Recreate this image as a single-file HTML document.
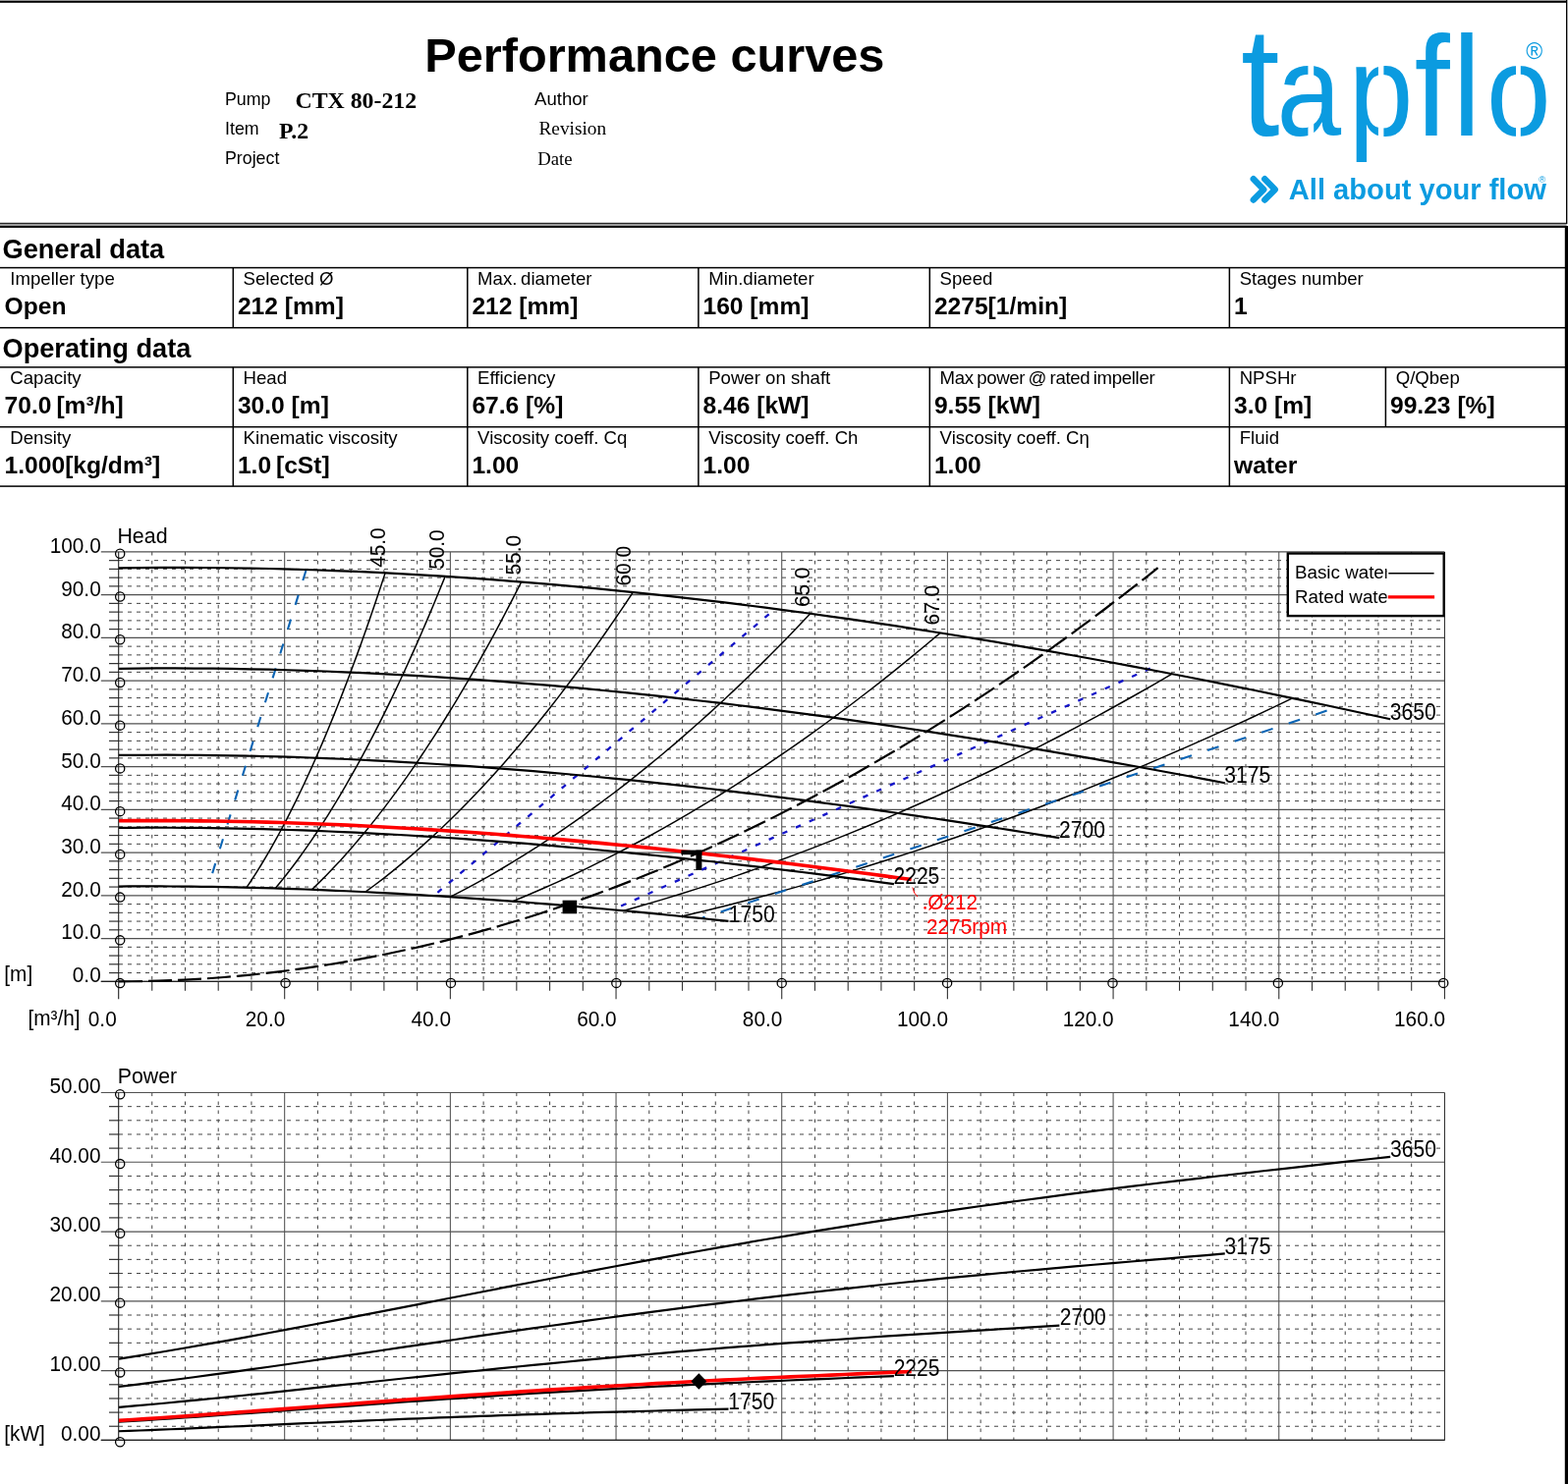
<!DOCTYPE html>
<html><head><meta charset="utf-8"><title>Performance curves</title>
<style>
html,body{margin:0;padding:0;background:#fff}
body{width:1596px;height:1511px;overflow:hidden;position:relative}
svg{position:absolute;left:0;top:0;display:block}
</style></head><body>
<svg width="1596" height="1511" viewBox="0 0 1596 1511" font-family='"Liberation Sans", Arial, Helvetica, sans-serif'>
<rect x="0" y="0" width="1596" height="0.8" fill="#aaa"/>
<rect x="0" y="0.8" width="1596" height="2" fill="#000"/>
<rect x="1595" y="0" width="1" height="228" fill="#bbb"/>
<rect x="1594" y="0" width="1.1" height="228" fill="#000"/>
<rect x="1592.8" y="230" width="3.2" height="1281" fill="#000"/>
<text x="432.2" y="72.6" font-size="48.7" font-weight="bold">Performance curves</text>
<text x="229" y="107" font-size="17.8">Pump</text>
<text x="300.5" y="109.8" font-size="23.8" font-weight="bold" font-family='"Liberation Serif", "Times New Roman", serif'>CTX 80-212</text>
<text x="229" y="136.7" font-size="17.8">Item</text>
<text x="284" y="140.8" font-size="23.8" font-weight="bold" font-family='"Liberation Serif", "Times New Roman", serif'>P.2</text>
<text x="229" y="167.4" font-size="17.8">Project</text>
<text x="544" y="106.9" font-size="18.6">Author</text>
<text x="548.5" y="136.7" font-size="19.3" font-family='"Liberation Serif", "Times New Roman", serif'>Revision</text>
<text x="547.3" y="167.7" font-size="18.7" font-family='"Liberation Serif", "Times New Roman", serif'>Date</text>
<text fill="#0b9be0" transform="scale(0.9 1)"><tspan x="1403.33" y="138.3" font-size="158">t</tspan><tspan x="1443.78" y="138.3" font-size="131">a</tspan><tspan x="1525.33" y="138.3" font-size="131">p</tspan><tspan x="1599.67" y="138.3" font-size="144">f</tspan><tspan x="1642.67" y="138.3" font-size="144">l</tspan><tspan x="1681.11" y="138.3" font-size="131">o</tspan></text>
<rect x="1331.4" y="60" width="5.8" height="22" fill="#fff"/>
<rect x="1331.4" y="124" width="5.8" height="18" fill="#fff"/>
<rect x="1402.9" y="60" width="5.5" height="22" fill="#fff"/>
<rect x="1402.9" y="124" width="5.5" height="18" fill="#fff"/>
<rect x="1543" y="60" width="4.8" height="22" fill="#fff"/>
<rect x="1543" y="124" width="4.8" height="18" fill="#fff"/>
<text x="1553.2" y="60" font-size="23" fill="#0b9be0">&#174;</text>
<path d="M1275.8 182.2 L1286.3 192.9 L1275.8 203.5" fill="none" stroke="#0b9be0" stroke-width="6.4" stroke-linecap="round" stroke-linejoin="round"/>
<path d="M1287.3 182.2 L1297.8 192.9 L1287.3 203.5" fill="none" stroke="#0b9be0" stroke-width="6.4" stroke-linecap="round" stroke-linejoin="round"/>
<text x="1311.8" y="203.1" font-size="28.7" font-weight="bold" fill="#0b9be0" textLength="262.1" lengthAdjust="spacingAndGlyphs">All about your flow</text>
<text x="1566.2" y="186.2" font-size="9.5" fill="#0b9be0">&#174;</text>
<rect x="0" y="226.8" width="1595" height="1.1" fill="#000"/>
<rect x="0" y="227.9" width="1594.6" height="2.1" fill="#9a9a9a"/>
<rect x="0" y="230" width="1596" height="1.9" fill="#000"/>
<text x="2.5" y="262.9" font-size="27.2" font-weight="bold">General data</text>
<text x="2.5" y="364" font-size="27.2" font-weight="bold">Operating data</text>
<rect x="0" y="271.85" width="1594" height="1.5" fill="#000"/>
<rect x="0" y="332.95" width="1594" height="1.5" fill="#000"/>
<rect x="0" y="373.15" width="1594" height="1.5" fill="#000"/>
<rect x="0" y="433.95" width="1594" height="1.5" fill="#000"/>
<rect x="0" y="494.35" width="1594" height="1.5" fill="#000"/>
<rect x="236.55" y="272.6" width="1.5" height="61.1" fill="#000"/>
<rect x="236.55" y="373.9" width="1.5" height="121.2" fill="#000"/>
<rect x="475.05" y="272.6" width="1.5" height="61.1" fill="#000"/>
<rect x="475.05" y="373.9" width="1.5" height="121.2" fill="#000"/>
<rect x="710.15" y="272.6" width="1.5" height="61.1" fill="#000"/>
<rect x="710.15" y="373.9" width="1.5" height="121.2" fill="#000"/>
<rect x="945.55" y="272.6" width="1.5" height="61.1" fill="#000"/>
<rect x="945.55" y="373.9" width="1.5" height="121.2" fill="#000"/>
<rect x="1250.65" y="272.6" width="1.5" height="61.1" fill="#000"/>
<rect x="1250.65" y="373.9" width="1.5" height="121.2" fill="#000"/>
<rect x="1409.65" y="373.9" width="1.5" height="60.8" fill="#000"/>
<text x="10.3" y="290.1" font-size="18.6">Impeller type</text>
<text x="4.6" y="320.1" font-size="24.6" font-weight="bold">Open</text>
<text x="247.6" y="290.1" font-size="18.6">Selected &#216;</text>
<text x="241.9" y="320.1" font-size="24.6" font-weight="bold">212 [mm]</text>
<text x="486.1" y="290.1" font-size="18.6">Max.&#8201;diameter</text>
<text x="480.4" y="320.1" font-size="24.6" font-weight="bold">212 [mm]</text>
<text x="721.2" y="290.1" font-size="18.6">Min.diameter</text>
<text x="715.5" y="320.1" font-size="24.6" font-weight="bold">160 [mm]</text>
<text x="956.6" y="290.1" font-size="18.6">Speed</text>
<text x="950.9" y="320.1" font-size="24.6" font-weight="bold">2275[1/min]</text>
<text x="1261.7" y="290.1" font-size="18.6">Stages number</text>
<text x="1256" y="320.1" font-size="24.6" font-weight="bold">1</text>
<text x="10.3" y="391.4" font-size="18.6">Capacity</text>
<text x="4.6" y="421.4" font-size="24.6" font-weight="bold">70.0&#8201;[m&#179;/h]</text>
<text x="247.6" y="391.4" font-size="18.6">Head</text>
<text x="241.9" y="421.4" font-size="24.6" font-weight="bold">30.0 [m]</text>
<text x="486.1" y="391.4" font-size="18.6">Efficiency</text>
<text x="480.4" y="421.4" font-size="24.6" font-weight="bold">67.6 [%]</text>
<text x="721.2" y="391.4" font-size="18.6">Power on shaft</text>
<text x="715.5" y="421.4" font-size="24.6" font-weight="bold">8.46 [kW]</text>
<text x="956.6" y="391.4" font-size="18.6" textLength="219" lengthAdjust="spacing">Max&#8201;power&#8201;@&#8201;rated&#8201;impeller</text>
<text x="950.9" y="421.4" font-size="24.6" font-weight="bold">9.55 [kW]</text>
<text x="1261.7" y="391.4" font-size="18.6">NPSHr</text>
<text x="1256" y="421.4" font-size="24.6" font-weight="bold">3.0 [m]</text>
<text x="1420.7" y="391.4" font-size="18.6">Q/Qbep</text>
<text x="1415" y="421.4" font-size="24.6" font-weight="bold">99.23 [%]</text>
<text x="10.3" y="452.2" font-size="18.6">Density</text>
<text x="4.6" y="482.2" font-size="24.6" font-weight="bold">1.000[kg/dm&#179;]</text>
<text x="247.6" y="452.2" font-size="18.6">Kinematic viscosity</text>
<text x="241.9" y="482.2" font-size="24.6" font-weight="bold">1.0&#8201;[cSt]</text>
<text x="486.1" y="452.2" font-size="18.6">Viscosity coeff. Cq</text>
<text x="480.4" y="482.2" font-size="24.6" font-weight="bold">1.00</text>
<text x="721.2" y="452.2" font-size="18.6">Viscosity coeff. Ch</text>
<text x="715.5" y="482.2" font-size="24.6" font-weight="bold">1.00</text>
<text x="956.6" y="452.2" font-size="18.6">Viscosity coeff. C&#951;</text>
<text x="950.9" y="482.2" font-size="24.6" font-weight="bold">1.00</text>
<text x="1261.7" y="452.2" font-size="18.6">Fluid</text>
<text x="1256" y="482.2" font-size="24.6" font-weight="bold">water</text>
<line x1="121" y1="990.55" x2="1470.44" y2="990.55" stroke="#444" stroke-width="1" stroke-dasharray="4 5"/>
<line x1="111" y1="990.55" x2="121" y2="990.55" stroke="#333" stroke-width="1.2"/>
<line x1="121" y1="981.8" x2="1470.44" y2="981.8" stroke="#444" stroke-width="1" stroke-dasharray="4 5"/>
<line x1="111" y1="981.8" x2="121" y2="981.8" stroke="#333" stroke-width="1.2"/>
<line x1="121" y1="973.06" x2="1470.44" y2="973.06" stroke="#444" stroke-width="1" stroke-dasharray="4 5"/>
<line x1="111" y1="973.06" x2="121" y2="973.06" stroke="#333" stroke-width="1.2"/>
<line x1="121" y1="964.31" x2="1470.44" y2="964.31" stroke="#444" stroke-width="1" stroke-dasharray="4 5"/>
<line x1="111" y1="964.31" x2="121" y2="964.31" stroke="#333" stroke-width="1.2"/>
<line x1="121" y1="946.81" x2="1470.44" y2="946.81" stroke="#444" stroke-width="1" stroke-dasharray="4 5"/>
<line x1="111" y1="946.81" x2="121" y2="946.81" stroke="#333" stroke-width="1.2"/>
<line x1="121" y1="938.06" x2="1470.44" y2="938.06" stroke="#444" stroke-width="1" stroke-dasharray="4 5"/>
<line x1="111" y1="938.06" x2="121" y2="938.06" stroke="#333" stroke-width="1.2"/>
<line x1="121" y1="929.32" x2="1470.44" y2="929.32" stroke="#444" stroke-width="1" stroke-dasharray="4 5"/>
<line x1="111" y1="929.32" x2="121" y2="929.32" stroke="#333" stroke-width="1.2"/>
<line x1="121" y1="920.57" x2="1470.44" y2="920.57" stroke="#444" stroke-width="1" stroke-dasharray="4 5"/>
<line x1="111" y1="920.57" x2="121" y2="920.57" stroke="#333" stroke-width="1.2"/>
<line x1="121" y1="903.07" x2="1470.44" y2="903.07" stroke="#444" stroke-width="1" stroke-dasharray="4 5"/>
<line x1="111" y1="903.07" x2="121" y2="903.07" stroke="#333" stroke-width="1.2"/>
<line x1="121" y1="894.32" x2="1470.44" y2="894.32" stroke="#444" stroke-width="1" stroke-dasharray="4 5"/>
<line x1="111" y1="894.32" x2="121" y2="894.32" stroke="#333" stroke-width="1.2"/>
<line x1="121" y1="885.58" x2="1470.44" y2="885.58" stroke="#444" stroke-width="1" stroke-dasharray="4 5"/>
<line x1="111" y1="885.58" x2="121" y2="885.58" stroke="#333" stroke-width="1.2"/>
<line x1="121" y1="876.83" x2="1470.44" y2="876.83" stroke="#444" stroke-width="1" stroke-dasharray="4 5"/>
<line x1="111" y1="876.83" x2="121" y2="876.83" stroke="#333" stroke-width="1.2"/>
<line x1="121" y1="859.33" x2="1470.44" y2="859.33" stroke="#444" stroke-width="1" stroke-dasharray="4 5"/>
<line x1="111" y1="859.33" x2="121" y2="859.33" stroke="#333" stroke-width="1.2"/>
<line x1="121" y1="850.58" x2="1470.44" y2="850.58" stroke="#444" stroke-width="1" stroke-dasharray="4 5"/>
<line x1="111" y1="850.58" x2="121" y2="850.58" stroke="#333" stroke-width="1.2"/>
<line x1="121" y1="841.84" x2="1470.44" y2="841.84" stroke="#444" stroke-width="1" stroke-dasharray="4 5"/>
<line x1="111" y1="841.84" x2="121" y2="841.84" stroke="#333" stroke-width="1.2"/>
<line x1="121" y1="833.09" x2="1470.44" y2="833.09" stroke="#444" stroke-width="1" stroke-dasharray="4 5"/>
<line x1="111" y1="833.09" x2="121" y2="833.09" stroke="#333" stroke-width="1.2"/>
<line x1="121" y1="815.59" x2="1470.44" y2="815.59" stroke="#444" stroke-width="1" stroke-dasharray="4 5"/>
<line x1="111" y1="815.59" x2="121" y2="815.59" stroke="#333" stroke-width="1.2"/>
<line x1="121" y1="806.84" x2="1470.44" y2="806.84" stroke="#444" stroke-width="1" stroke-dasharray="4 5"/>
<line x1="111" y1="806.84" x2="121" y2="806.84" stroke="#333" stroke-width="1.2"/>
<line x1="121" y1="798.1" x2="1470.44" y2="798.1" stroke="#444" stroke-width="1" stroke-dasharray="4 5"/>
<line x1="111" y1="798.1" x2="121" y2="798.1" stroke="#333" stroke-width="1.2"/>
<line x1="121" y1="789.35" x2="1470.44" y2="789.35" stroke="#444" stroke-width="1" stroke-dasharray="4 5"/>
<line x1="111" y1="789.35" x2="121" y2="789.35" stroke="#333" stroke-width="1.2"/>
<line x1="121" y1="771.85" x2="1470.44" y2="771.85" stroke="#444" stroke-width="1" stroke-dasharray="4 5"/>
<line x1="111" y1="771.85" x2="121" y2="771.85" stroke="#333" stroke-width="1.2"/>
<line x1="121" y1="763.1" x2="1470.44" y2="763.1" stroke="#444" stroke-width="1" stroke-dasharray="4 5"/>
<line x1="111" y1="763.1" x2="121" y2="763.1" stroke="#333" stroke-width="1.2"/>
<line x1="121" y1="754.36" x2="1470.44" y2="754.36" stroke="#444" stroke-width="1" stroke-dasharray="4 5"/>
<line x1="111" y1="754.36" x2="121" y2="754.36" stroke="#333" stroke-width="1.2"/>
<line x1="121" y1="745.61" x2="1470.44" y2="745.61" stroke="#444" stroke-width="1" stroke-dasharray="4 5"/>
<line x1="111" y1="745.61" x2="121" y2="745.61" stroke="#333" stroke-width="1.2"/>
<line x1="121" y1="728.11" x2="1470.44" y2="728.11" stroke="#444" stroke-width="1" stroke-dasharray="4 5"/>
<line x1="111" y1="728.11" x2="121" y2="728.11" stroke="#333" stroke-width="1.2"/>
<line x1="121" y1="719.36" x2="1470.44" y2="719.36" stroke="#444" stroke-width="1" stroke-dasharray="4 5"/>
<line x1="111" y1="719.36" x2="121" y2="719.36" stroke="#333" stroke-width="1.2"/>
<line x1="121" y1="710.62" x2="1470.44" y2="710.62" stroke="#444" stroke-width="1" stroke-dasharray="4 5"/>
<line x1="111" y1="710.62" x2="121" y2="710.62" stroke="#333" stroke-width="1.2"/>
<line x1="121" y1="701.87" x2="1470.44" y2="701.87" stroke="#444" stroke-width="1" stroke-dasharray="4 5"/>
<line x1="111" y1="701.87" x2="121" y2="701.87" stroke="#333" stroke-width="1.2"/>
<line x1="121" y1="684.37" x2="1470.44" y2="684.37" stroke="#444" stroke-width="1" stroke-dasharray="4 5"/>
<line x1="111" y1="684.37" x2="121" y2="684.37" stroke="#333" stroke-width="1.2"/>
<line x1="121" y1="675.62" x2="1470.44" y2="675.62" stroke="#444" stroke-width="1" stroke-dasharray="4 5"/>
<line x1="111" y1="675.62" x2="121" y2="675.62" stroke="#333" stroke-width="1.2"/>
<line x1="121" y1="666.88" x2="1470.44" y2="666.88" stroke="#444" stroke-width="1" stroke-dasharray="4 5"/>
<line x1="111" y1="666.88" x2="121" y2="666.88" stroke="#333" stroke-width="1.2"/>
<line x1="121" y1="658.13" x2="1470.44" y2="658.13" stroke="#444" stroke-width="1" stroke-dasharray="4 5"/>
<line x1="111" y1="658.13" x2="121" y2="658.13" stroke="#333" stroke-width="1.2"/>
<line x1="121" y1="640.63" x2="1470.44" y2="640.63" stroke="#444" stroke-width="1" stroke-dasharray="4 5"/>
<line x1="111" y1="640.63" x2="121" y2="640.63" stroke="#333" stroke-width="1.2"/>
<line x1="121" y1="631.88" x2="1470.44" y2="631.88" stroke="#444" stroke-width="1" stroke-dasharray="4 5"/>
<line x1="111" y1="631.88" x2="121" y2="631.88" stroke="#333" stroke-width="1.2"/>
<line x1="121" y1="623.14" x2="1470.44" y2="623.14" stroke="#444" stroke-width="1" stroke-dasharray="4 5"/>
<line x1="111" y1="623.14" x2="121" y2="623.14" stroke="#333" stroke-width="1.2"/>
<line x1="121" y1="614.39" x2="1470.44" y2="614.39" stroke="#444" stroke-width="1" stroke-dasharray="4 5"/>
<line x1="111" y1="614.39" x2="121" y2="614.39" stroke="#333" stroke-width="1.2"/>
<line x1="121" y1="596.89" x2="1470.44" y2="596.89" stroke="#444" stroke-width="1" stroke-dasharray="4 5"/>
<line x1="111" y1="596.89" x2="121" y2="596.89" stroke="#333" stroke-width="1.2"/>
<line x1="121" y1="588.14" x2="1470.44" y2="588.14" stroke="#444" stroke-width="1" stroke-dasharray="4 5"/>
<line x1="111" y1="588.14" x2="121" y2="588.14" stroke="#333" stroke-width="1.2"/>
<line x1="121" y1="579.4" x2="1470.44" y2="579.4" stroke="#444" stroke-width="1" stroke-dasharray="4 5"/>
<line x1="111" y1="579.4" x2="121" y2="579.4" stroke="#333" stroke-width="1.2"/>
<line x1="121" y1="570.65" x2="1470.44" y2="570.65" stroke="#444" stroke-width="1" stroke-dasharray="4 5"/>
<line x1="111" y1="570.65" x2="121" y2="570.65" stroke="#333" stroke-width="1.2"/>
<line x1="154.74" y1="561.9" x2="154.74" y2="999.3" stroke="#444" stroke-width="1" stroke-dasharray="3.6 5.4"/>
<line x1="188.47" y1="561.9" x2="188.47" y2="999.3" stroke="#444" stroke-width="1" stroke-dasharray="3.6 5.4"/>
<line x1="222.21" y1="561.9" x2="222.21" y2="999.3" stroke="#444" stroke-width="1" stroke-dasharray="3.6 5.4"/>
<line x1="255.94" y1="561.9" x2="255.94" y2="999.3" stroke="#444" stroke-width="1" stroke-dasharray="3.6 5.4"/>
<line x1="323.42" y1="561.9" x2="323.42" y2="999.3" stroke="#444" stroke-width="1" stroke-dasharray="3.6 5.4"/>
<line x1="357.15" y1="561.9" x2="357.15" y2="999.3" stroke="#444" stroke-width="1" stroke-dasharray="3.6 5.4"/>
<line x1="390.89" y1="561.9" x2="390.89" y2="999.3" stroke="#444" stroke-width="1" stroke-dasharray="3.6 5.4"/>
<line x1="424.62" y1="561.9" x2="424.62" y2="999.3" stroke="#444" stroke-width="1" stroke-dasharray="3.6 5.4"/>
<line x1="492.1" y1="561.9" x2="492.1" y2="999.3" stroke="#444" stroke-width="1" stroke-dasharray="3.6 5.4"/>
<line x1="525.83" y1="561.9" x2="525.83" y2="999.3" stroke="#444" stroke-width="1" stroke-dasharray="3.6 5.4"/>
<line x1="559.57" y1="561.9" x2="559.57" y2="999.3" stroke="#444" stroke-width="1" stroke-dasharray="3.6 5.4"/>
<line x1="593.3" y1="561.9" x2="593.3" y2="999.3" stroke="#444" stroke-width="1" stroke-dasharray="3.6 5.4"/>
<line x1="660.78" y1="561.9" x2="660.78" y2="999.3" stroke="#444" stroke-width="1" stroke-dasharray="3.6 5.4"/>
<line x1="694.51" y1="561.9" x2="694.51" y2="999.3" stroke="#444" stroke-width="1" stroke-dasharray="3.6 5.4"/>
<line x1="728.25" y1="561.9" x2="728.25" y2="999.3" stroke="#444" stroke-width="1" stroke-dasharray="3.6 5.4"/>
<line x1="761.98" y1="561.9" x2="761.98" y2="999.3" stroke="#444" stroke-width="1" stroke-dasharray="3.6 5.4"/>
<line x1="829.46" y1="561.9" x2="829.46" y2="999.3" stroke="#444" stroke-width="1" stroke-dasharray="3.6 5.4"/>
<line x1="863.19" y1="561.9" x2="863.19" y2="999.3" stroke="#444" stroke-width="1" stroke-dasharray="3.6 5.4"/>
<line x1="896.93" y1="561.9" x2="896.93" y2="999.3" stroke="#444" stroke-width="1" stroke-dasharray="3.6 5.4"/>
<line x1="930.66" y1="561.9" x2="930.66" y2="999.3" stroke="#444" stroke-width="1" stroke-dasharray="3.6 5.4"/>
<line x1="998.14" y1="561.9" x2="998.14" y2="999.3" stroke="#444" stroke-width="1" stroke-dasharray="3.6 5.4"/>
<line x1="1031.87" y1="561.9" x2="1031.87" y2="999.3" stroke="#444" stroke-width="1" stroke-dasharray="3.6 5.4"/>
<line x1="1065.61" y1="561.9" x2="1065.61" y2="999.3" stroke="#444" stroke-width="1" stroke-dasharray="3.6 5.4"/>
<line x1="1099.34" y1="561.9" x2="1099.34" y2="999.3" stroke="#444" stroke-width="1" stroke-dasharray="3.6 5.4"/>
<line x1="1166.82" y1="561.9" x2="1166.82" y2="999.3" stroke="#444" stroke-width="1" stroke-dasharray="3.6 5.4"/>
<line x1="1200.55" y1="561.9" x2="1200.55" y2="999.3" stroke="#444" stroke-width="1" stroke-dasharray="3.6 5.4"/>
<line x1="1234.29" y1="561.9" x2="1234.29" y2="999.3" stroke="#444" stroke-width="1" stroke-dasharray="3.6 5.4"/>
<line x1="1268.02" y1="561.9" x2="1268.02" y2="999.3" stroke="#444" stroke-width="1" stroke-dasharray="3.6 5.4"/>
<line x1="1335.5" y1="561.9" x2="1335.5" y2="999.3" stroke="#444" stroke-width="1" stroke-dasharray="3.6 5.4"/>
<line x1="1369.23" y1="561.9" x2="1369.23" y2="999.3" stroke="#444" stroke-width="1" stroke-dasharray="3.6 5.4"/>
<line x1="1402.97" y1="561.9" x2="1402.97" y2="999.3" stroke="#444" stroke-width="1" stroke-dasharray="3.6 5.4"/>
<line x1="1436.7" y1="561.9" x2="1436.7" y2="999.3" stroke="#444" stroke-width="1" stroke-dasharray="3.6 5.4"/>
<line x1="289.68" y1="561.9" x2="289.68" y2="999.3" stroke="#505050" stroke-width="1.05"/>
<line x1="458.36" y1="561.9" x2="458.36" y2="999.3" stroke="#505050" stroke-width="1.05"/>
<line x1="627.04" y1="561.9" x2="627.04" y2="999.3" stroke="#505050" stroke-width="1.05"/>
<line x1="795.72" y1="561.9" x2="795.72" y2="999.3" stroke="#505050" stroke-width="1.05"/>
<line x1="964.4" y1="561.9" x2="964.4" y2="999.3" stroke="#505050" stroke-width="1.05"/>
<line x1="1133.08" y1="561.9" x2="1133.08" y2="999.3" stroke="#505050" stroke-width="1.05"/>
<line x1="1301.76" y1="561.9" x2="1301.76" y2="999.3" stroke="#505050" stroke-width="1.05"/>
<line x1="102.8" y1="999.3" x2="1470.44" y2="999.3" stroke="#505050" stroke-width="1.15"/>
<line x1="102.8" y1="955.56" x2="1470.44" y2="955.56" stroke="#505050" stroke-width="1.15"/>
<line x1="102.8" y1="911.82" x2="1470.44" y2="911.82" stroke="#505050" stroke-width="1.15"/>
<line x1="102.8" y1="868.08" x2="1470.44" y2="868.08" stroke="#505050" stroke-width="1.15"/>
<line x1="102.8" y1="824.34" x2="1470.44" y2="824.34" stroke="#505050" stroke-width="1.15"/>
<line x1="102.8" y1="780.6" x2="1470.44" y2="780.6" stroke="#505050" stroke-width="1.15"/>
<line x1="102.8" y1="736.86" x2="1470.44" y2="736.86" stroke="#505050" stroke-width="1.15"/>
<line x1="102.8" y1="693.12" x2="1470.44" y2="693.12" stroke="#505050" stroke-width="1.15"/>
<line x1="102.8" y1="649.38" x2="1470.44" y2="649.38" stroke="#505050" stroke-width="1.15"/>
<line x1="102.8" y1="605.64" x2="1470.44" y2="605.64" stroke="#505050" stroke-width="1.15"/>
<line x1="102.8" y1="561.9" x2="1470.44" y2="561.9" stroke="#505050" stroke-width="1.15"/>
<line x1="1470.44" y1="561.9" x2="1470.44" y2="999.3" stroke="#333" stroke-width="1.1"/>
<line x1="102.8" y1="999.3" x2="1470.44" y2="999.3" stroke="#222" stroke-width="1.3"/>
<line x1="120.7" y1="561.9" x2="120.7" y2="1017.3" stroke="#222" stroke-width="1.1"/>
<line x1="154.74" y1="999.3" x2="154.74" y2="1008.8" stroke="#333" stroke-width="1.1"/>
<line x1="188.47" y1="999.3" x2="188.47" y2="1008.8" stroke="#333" stroke-width="1.1"/>
<line x1="222.21" y1="999.3" x2="222.21" y2="1008.8" stroke="#333" stroke-width="1.1"/>
<line x1="255.94" y1="999.3" x2="255.94" y2="1008.8" stroke="#333" stroke-width="1.1"/>
<line x1="289.68" y1="999.3" x2="289.68" y2="1017.3" stroke="#333" stroke-width="1.1"/>
<line x1="323.42" y1="999.3" x2="323.42" y2="1008.8" stroke="#333" stroke-width="1.1"/>
<line x1="357.15" y1="999.3" x2="357.15" y2="1008.8" stroke="#333" stroke-width="1.1"/>
<line x1="390.89" y1="999.3" x2="390.89" y2="1008.8" stroke="#333" stroke-width="1.1"/>
<line x1="424.62" y1="999.3" x2="424.62" y2="1008.8" stroke="#333" stroke-width="1.1"/>
<line x1="458.36" y1="999.3" x2="458.36" y2="1017.3" stroke="#333" stroke-width="1.1"/>
<line x1="492.1" y1="999.3" x2="492.1" y2="1008.8" stroke="#333" stroke-width="1.1"/>
<line x1="525.83" y1="999.3" x2="525.83" y2="1008.8" stroke="#333" stroke-width="1.1"/>
<line x1="559.57" y1="999.3" x2="559.57" y2="1008.8" stroke="#333" stroke-width="1.1"/>
<line x1="593.3" y1="999.3" x2="593.3" y2="1008.8" stroke="#333" stroke-width="1.1"/>
<line x1="627.04" y1="999.3" x2="627.04" y2="1017.3" stroke="#333" stroke-width="1.1"/>
<line x1="660.78" y1="999.3" x2="660.78" y2="1008.8" stroke="#333" stroke-width="1.1"/>
<line x1="694.51" y1="999.3" x2="694.51" y2="1008.8" stroke="#333" stroke-width="1.1"/>
<line x1="728.25" y1="999.3" x2="728.25" y2="1008.8" stroke="#333" stroke-width="1.1"/>
<line x1="761.98" y1="999.3" x2="761.98" y2="1008.8" stroke="#333" stroke-width="1.1"/>
<line x1="795.72" y1="999.3" x2="795.72" y2="1017.3" stroke="#333" stroke-width="1.1"/>
<line x1="829.46" y1="999.3" x2="829.46" y2="1008.8" stroke="#333" stroke-width="1.1"/>
<line x1="863.19" y1="999.3" x2="863.19" y2="1008.8" stroke="#333" stroke-width="1.1"/>
<line x1="896.93" y1="999.3" x2="896.93" y2="1008.8" stroke="#333" stroke-width="1.1"/>
<line x1="930.66" y1="999.3" x2="930.66" y2="1008.8" stroke="#333" stroke-width="1.1"/>
<line x1="964.4" y1="999.3" x2="964.4" y2="1017.3" stroke="#333" stroke-width="1.1"/>
<line x1="998.14" y1="999.3" x2="998.14" y2="1008.8" stroke="#333" stroke-width="1.1"/>
<line x1="1031.87" y1="999.3" x2="1031.87" y2="1008.8" stroke="#333" stroke-width="1.1"/>
<line x1="1065.61" y1="999.3" x2="1065.61" y2="1008.8" stroke="#333" stroke-width="1.1"/>
<line x1="1099.34" y1="999.3" x2="1099.34" y2="1008.8" stroke="#333" stroke-width="1.1"/>
<line x1="1133.08" y1="999.3" x2="1133.08" y2="1017.3" stroke="#333" stroke-width="1.1"/>
<line x1="1166.82" y1="999.3" x2="1166.82" y2="1008.8" stroke="#333" stroke-width="1.1"/>
<line x1="1200.55" y1="999.3" x2="1200.55" y2="1008.8" stroke="#333" stroke-width="1.1"/>
<line x1="1234.29" y1="999.3" x2="1234.29" y2="1008.8" stroke="#333" stroke-width="1.1"/>
<line x1="1268.02" y1="999.3" x2="1268.02" y2="1008.8" stroke="#333" stroke-width="1.1"/>
<line x1="1301.76" y1="999.3" x2="1301.76" y2="1017.3" stroke="#333" stroke-width="1.1"/>
<line x1="1335.5" y1="999.3" x2="1335.5" y2="1008.8" stroke="#333" stroke-width="1.1"/>
<line x1="1369.23" y1="999.3" x2="1369.23" y2="1008.8" stroke="#333" stroke-width="1.1"/>
<line x1="1402.97" y1="999.3" x2="1402.97" y2="1008.8" stroke="#333" stroke-width="1.1"/>
<line x1="1436.7" y1="999.3" x2="1436.7" y2="1008.8" stroke="#333" stroke-width="1.1"/>
<line x1="1470.44" y1="999.3" x2="1470.44" y2="1017.3" stroke="#333" stroke-width="1.1"/>
<line x1="121" y1="1452.24" x2="1470.44" y2="1452.24" stroke="#444" stroke-width="1" stroke-dasharray="4 5"/>
<line x1="111" y1="1452.24" x2="121" y2="1452.24" stroke="#333" stroke-width="1.2"/>
<line x1="121" y1="1438.09" x2="1470.44" y2="1438.09" stroke="#444" stroke-width="1" stroke-dasharray="4 5"/>
<line x1="111" y1="1438.09" x2="121" y2="1438.09" stroke="#333" stroke-width="1.2"/>
<line x1="121" y1="1423.93" x2="1470.44" y2="1423.93" stroke="#444" stroke-width="1" stroke-dasharray="4 5"/>
<line x1="111" y1="1423.93" x2="121" y2="1423.93" stroke="#333" stroke-width="1.2"/>
<line x1="121" y1="1409.78" x2="1470.44" y2="1409.78" stroke="#444" stroke-width="1" stroke-dasharray="4 5"/>
<line x1="111" y1="1409.78" x2="121" y2="1409.78" stroke="#333" stroke-width="1.2"/>
<line x1="121" y1="1381.46" x2="1470.44" y2="1381.46" stroke="#444" stroke-width="1" stroke-dasharray="4 5"/>
<line x1="111" y1="1381.46" x2="121" y2="1381.46" stroke="#333" stroke-width="1.2"/>
<line x1="121" y1="1367.31" x2="1470.44" y2="1367.31" stroke="#444" stroke-width="1" stroke-dasharray="4 5"/>
<line x1="111" y1="1367.31" x2="121" y2="1367.31" stroke="#333" stroke-width="1.2"/>
<line x1="121" y1="1353.15" x2="1470.44" y2="1353.15" stroke="#444" stroke-width="1" stroke-dasharray="4 5"/>
<line x1="111" y1="1353.15" x2="121" y2="1353.15" stroke="#333" stroke-width="1.2"/>
<line x1="121" y1="1339" x2="1470.44" y2="1339" stroke="#444" stroke-width="1" stroke-dasharray="4 5"/>
<line x1="111" y1="1339" x2="121" y2="1339" stroke="#333" stroke-width="1.2"/>
<line x1="121" y1="1310.68" x2="1470.44" y2="1310.68" stroke="#444" stroke-width="1" stroke-dasharray="4 5"/>
<line x1="111" y1="1310.68" x2="121" y2="1310.68" stroke="#333" stroke-width="1.2"/>
<line x1="121" y1="1296.53" x2="1470.44" y2="1296.53" stroke="#444" stroke-width="1" stroke-dasharray="4 5"/>
<line x1="111" y1="1296.53" x2="121" y2="1296.53" stroke="#333" stroke-width="1.2"/>
<line x1="121" y1="1282.37" x2="1470.44" y2="1282.37" stroke="#444" stroke-width="1" stroke-dasharray="4 5"/>
<line x1="111" y1="1282.37" x2="121" y2="1282.37" stroke="#333" stroke-width="1.2"/>
<line x1="121" y1="1268.22" x2="1470.44" y2="1268.22" stroke="#444" stroke-width="1" stroke-dasharray="4 5"/>
<line x1="111" y1="1268.22" x2="121" y2="1268.22" stroke="#333" stroke-width="1.2"/>
<line x1="121" y1="1239.9" x2="1470.44" y2="1239.9" stroke="#444" stroke-width="1" stroke-dasharray="4 5"/>
<line x1="111" y1="1239.9" x2="121" y2="1239.9" stroke="#333" stroke-width="1.2"/>
<line x1="121" y1="1225.75" x2="1470.44" y2="1225.75" stroke="#444" stroke-width="1" stroke-dasharray="4 5"/>
<line x1="111" y1="1225.75" x2="121" y2="1225.75" stroke="#333" stroke-width="1.2"/>
<line x1="121" y1="1211.59" x2="1470.44" y2="1211.59" stroke="#444" stroke-width="1" stroke-dasharray="4 5"/>
<line x1="111" y1="1211.59" x2="121" y2="1211.59" stroke="#333" stroke-width="1.2"/>
<line x1="121" y1="1197.44" x2="1470.44" y2="1197.44" stroke="#444" stroke-width="1" stroke-dasharray="4 5"/>
<line x1="111" y1="1197.44" x2="121" y2="1197.44" stroke="#333" stroke-width="1.2"/>
<line x1="121" y1="1169.12" x2="1470.44" y2="1169.12" stroke="#444" stroke-width="1" stroke-dasharray="4 5"/>
<line x1="111" y1="1169.12" x2="121" y2="1169.12" stroke="#333" stroke-width="1.2"/>
<line x1="121" y1="1154.97" x2="1470.44" y2="1154.97" stroke="#444" stroke-width="1" stroke-dasharray="4 5"/>
<line x1="111" y1="1154.97" x2="121" y2="1154.97" stroke="#333" stroke-width="1.2"/>
<line x1="121" y1="1140.81" x2="1470.44" y2="1140.81" stroke="#444" stroke-width="1" stroke-dasharray="4 5"/>
<line x1="111" y1="1140.81" x2="121" y2="1140.81" stroke="#333" stroke-width="1.2"/>
<line x1="121" y1="1126.66" x2="1470.44" y2="1126.66" stroke="#444" stroke-width="1" stroke-dasharray="4 5"/>
<line x1="111" y1="1126.66" x2="121" y2="1126.66" stroke="#333" stroke-width="1.2"/>
<line x1="154.74" y1="1112.5" x2="154.74" y2="1466.4" stroke="#444" stroke-width="1" stroke-dasharray="3.6 5.4"/>
<line x1="188.47" y1="1112.5" x2="188.47" y2="1466.4" stroke="#444" stroke-width="1" stroke-dasharray="3.6 5.4"/>
<line x1="222.21" y1="1112.5" x2="222.21" y2="1466.4" stroke="#444" stroke-width="1" stroke-dasharray="3.6 5.4"/>
<line x1="255.94" y1="1112.5" x2="255.94" y2="1466.4" stroke="#444" stroke-width="1" stroke-dasharray="3.6 5.4"/>
<line x1="323.42" y1="1112.5" x2="323.42" y2="1466.4" stroke="#444" stroke-width="1" stroke-dasharray="3.6 5.4"/>
<line x1="357.15" y1="1112.5" x2="357.15" y2="1466.4" stroke="#444" stroke-width="1" stroke-dasharray="3.6 5.4"/>
<line x1="390.89" y1="1112.5" x2="390.89" y2="1466.4" stroke="#444" stroke-width="1" stroke-dasharray="3.6 5.4"/>
<line x1="424.62" y1="1112.5" x2="424.62" y2="1466.4" stroke="#444" stroke-width="1" stroke-dasharray="3.6 5.4"/>
<line x1="492.1" y1="1112.5" x2="492.1" y2="1466.4" stroke="#444" stroke-width="1" stroke-dasharray="3.6 5.4"/>
<line x1="525.83" y1="1112.5" x2="525.83" y2="1466.4" stroke="#444" stroke-width="1" stroke-dasharray="3.6 5.4"/>
<line x1="559.57" y1="1112.5" x2="559.57" y2="1466.4" stroke="#444" stroke-width="1" stroke-dasharray="3.6 5.4"/>
<line x1="593.3" y1="1112.5" x2="593.3" y2="1466.4" stroke="#444" stroke-width="1" stroke-dasharray="3.6 5.4"/>
<line x1="660.78" y1="1112.5" x2="660.78" y2="1466.4" stroke="#444" stroke-width="1" stroke-dasharray="3.6 5.4"/>
<line x1="694.51" y1="1112.5" x2="694.51" y2="1466.4" stroke="#444" stroke-width="1" stroke-dasharray="3.6 5.4"/>
<line x1="728.25" y1="1112.5" x2="728.25" y2="1466.4" stroke="#444" stroke-width="1" stroke-dasharray="3.6 5.4"/>
<line x1="761.98" y1="1112.5" x2="761.98" y2="1466.4" stroke="#444" stroke-width="1" stroke-dasharray="3.6 5.4"/>
<line x1="829.46" y1="1112.5" x2="829.46" y2="1466.4" stroke="#444" stroke-width="1" stroke-dasharray="3.6 5.4"/>
<line x1="863.19" y1="1112.5" x2="863.19" y2="1466.4" stroke="#444" stroke-width="1" stroke-dasharray="3.6 5.4"/>
<line x1="896.93" y1="1112.5" x2="896.93" y2="1466.4" stroke="#444" stroke-width="1" stroke-dasharray="3.6 5.4"/>
<line x1="930.66" y1="1112.5" x2="930.66" y2="1466.4" stroke="#444" stroke-width="1" stroke-dasharray="3.6 5.4"/>
<line x1="998.14" y1="1112.5" x2="998.14" y2="1466.4" stroke="#444" stroke-width="1" stroke-dasharray="3.6 5.4"/>
<line x1="1031.87" y1="1112.5" x2="1031.87" y2="1466.4" stroke="#444" stroke-width="1" stroke-dasharray="3.6 5.4"/>
<line x1="1065.61" y1="1112.5" x2="1065.61" y2="1466.4" stroke="#444" stroke-width="1" stroke-dasharray="3.6 5.4"/>
<line x1="1099.34" y1="1112.5" x2="1099.34" y2="1466.4" stroke="#444" stroke-width="1" stroke-dasharray="3.6 5.4"/>
<line x1="1166.82" y1="1112.5" x2="1166.82" y2="1466.4" stroke="#444" stroke-width="1" stroke-dasharray="3.6 5.4"/>
<line x1="1200.55" y1="1112.5" x2="1200.55" y2="1466.4" stroke="#444" stroke-width="1" stroke-dasharray="3.6 5.4"/>
<line x1="1234.29" y1="1112.5" x2="1234.29" y2="1466.4" stroke="#444" stroke-width="1" stroke-dasharray="3.6 5.4"/>
<line x1="1268.02" y1="1112.5" x2="1268.02" y2="1466.4" stroke="#444" stroke-width="1" stroke-dasharray="3.6 5.4"/>
<line x1="1335.5" y1="1112.5" x2="1335.5" y2="1466.4" stroke="#444" stroke-width="1" stroke-dasharray="3.6 5.4"/>
<line x1="1369.23" y1="1112.5" x2="1369.23" y2="1466.4" stroke="#444" stroke-width="1" stroke-dasharray="3.6 5.4"/>
<line x1="1402.97" y1="1112.5" x2="1402.97" y2="1466.4" stroke="#444" stroke-width="1" stroke-dasharray="3.6 5.4"/>
<line x1="1436.7" y1="1112.5" x2="1436.7" y2="1466.4" stroke="#444" stroke-width="1" stroke-dasharray="3.6 5.4"/>
<line x1="289.68" y1="1112.5" x2="289.68" y2="1466.4" stroke="#505050" stroke-width="1.05"/>
<line x1="458.36" y1="1112.5" x2="458.36" y2="1466.4" stroke="#505050" stroke-width="1.05"/>
<line x1="627.04" y1="1112.5" x2="627.04" y2="1466.4" stroke="#505050" stroke-width="1.05"/>
<line x1="795.72" y1="1112.5" x2="795.72" y2="1466.4" stroke="#505050" stroke-width="1.05"/>
<line x1="964.4" y1="1112.5" x2="964.4" y2="1466.4" stroke="#505050" stroke-width="1.05"/>
<line x1="1133.08" y1="1112.5" x2="1133.08" y2="1466.4" stroke="#505050" stroke-width="1.05"/>
<line x1="1301.76" y1="1112.5" x2="1301.76" y2="1466.4" stroke="#505050" stroke-width="1.05"/>
<line x1="102.8" y1="1466.4" x2="1470.44" y2="1466.4" stroke="#505050" stroke-width="1.15"/>
<line x1="102.8" y1="1395.62" x2="1470.44" y2="1395.62" stroke="#505050" stroke-width="1.15"/>
<line x1="102.8" y1="1324.84" x2="1470.44" y2="1324.84" stroke="#505050" stroke-width="1.15"/>
<line x1="102.8" y1="1254.06" x2="1470.44" y2="1254.06" stroke="#505050" stroke-width="1.15"/>
<line x1="102.8" y1="1183.28" x2="1470.44" y2="1183.28" stroke="#505050" stroke-width="1.15"/>
<line x1="102.8" y1="1112.5" x2="1470.44" y2="1112.5" stroke="#505050" stroke-width="1.15"/>
<line x1="1470.44" y1="1112.5" x2="1470.44" y2="1466.4" stroke="#333" stroke-width="1.1"/>
<line x1="102.8" y1="1466.4" x2="1470.44" y2="1466.4" stroke="#222" stroke-width="1.3"/>
<line x1="120.7" y1="1112.5" x2="120.7" y2="1466.4" stroke="#222" stroke-width="1.1"/>
<circle cx="122.2" cy="1001.1" r="4.6" fill="none" stroke="#000" stroke-width="1.3"/>
<circle cx="122.2" cy="957.36" r="4.6" fill="none" stroke="#000" stroke-width="1.3"/>
<circle cx="122.2" cy="913.62" r="4.6" fill="none" stroke="#000" stroke-width="1.3"/>
<circle cx="122.2" cy="869.88" r="4.6" fill="none" stroke="#000" stroke-width="1.3"/>
<circle cx="122.2" cy="826.14" r="4.6" fill="none" stroke="#000" stroke-width="1.3"/>
<circle cx="122.2" cy="782.4" r="4.6" fill="none" stroke="#000" stroke-width="1.3"/>
<circle cx="122.2" cy="738.66" r="4.6" fill="none" stroke="#000" stroke-width="1.3"/>
<circle cx="122.2" cy="694.92" r="4.6" fill="none" stroke="#000" stroke-width="1.3"/>
<circle cx="122.2" cy="651.18" r="4.6" fill="none" stroke="#000" stroke-width="1.3"/>
<circle cx="122.2" cy="607.44" r="4.6" fill="none" stroke="#000" stroke-width="1.3"/>
<circle cx="122.2" cy="563.7" r="4.6" fill="none" stroke="#000" stroke-width="1.3"/>
<circle cx="290.58" cy="1000.9" r="4.6" fill="none" stroke="#000" stroke-width="1.3"/>
<circle cx="458.96" cy="1000.9" r="4.6" fill="none" stroke="#000" stroke-width="1.3"/>
<circle cx="627.34" cy="1000.9" r="4.6" fill="none" stroke="#000" stroke-width="1.3"/>
<circle cx="795.72" cy="1000.9" r="4.6" fill="none" stroke="#000" stroke-width="1.3"/>
<circle cx="964.1" cy="1000.9" r="4.6" fill="none" stroke="#000" stroke-width="1.3"/>
<circle cx="1132.48" cy="1000.9" r="4.6" fill="none" stroke="#000" stroke-width="1.3"/>
<circle cx="1300.86" cy="1000.9" r="4.6" fill="none" stroke="#000" stroke-width="1.3"/>
<circle cx="1469.24" cy="1000.9" r="4.6" fill="none" stroke="#000" stroke-width="1.3"/>
<circle cx="122.2" cy="1468.2" r="4.6" fill="none" stroke="#000" stroke-width="1.3"/>
<circle cx="122.2" cy="1397.42" r="4.6" fill="none" stroke="#000" stroke-width="1.3"/>
<circle cx="122.2" cy="1326.64" r="4.6" fill="none" stroke="#000" stroke-width="1.3"/>
<circle cx="122.2" cy="1255.86" r="4.6" fill="none" stroke="#000" stroke-width="1.3"/>
<circle cx="122.2" cy="1185.08" r="4.6" fill="none" stroke="#000" stroke-width="1.3"/>
<circle cx="122.2" cy="1114.3" r="4.6" fill="none" stroke="#000" stroke-width="1.3"/>
<text transform="translate(102.7 1000.2) scale(1 1.1)" font-size="20.8" text-anchor="end">0.0</text>
<text transform="translate(102.7 956.46) scale(1 1.1)" font-size="20.8" text-anchor="end">10.0</text>
<text transform="translate(102.7 912.72) scale(1 1.1)" font-size="20.8" text-anchor="end">20.0</text>
<text transform="translate(102.7 868.98) scale(1 1.1)" font-size="20.8" text-anchor="end">30.0</text>
<text transform="translate(102.7 825.24) scale(1 1.1)" font-size="20.8" text-anchor="end">40.0</text>
<text transform="translate(102.7 781.5) scale(1 1.1)" font-size="20.8" text-anchor="end">50.0</text>
<text transform="translate(102.7 737.76) scale(1 1.1)" font-size="20.8" text-anchor="end">60.0</text>
<text transform="translate(102.7 694.02) scale(1 1.1)" font-size="20.8" text-anchor="end">70.0</text>
<text transform="translate(102.7 650.28) scale(1 1.1)" font-size="20.8" text-anchor="end">80.0</text>
<text transform="translate(102.7 606.54) scale(1 1.1)" font-size="20.8" text-anchor="end">90.0</text>
<text transform="translate(102.7 562.8) scale(1 1.1)" font-size="20.8" text-anchor="end">100.0</text>
<text transform="translate(102.5 1466.7) scale(1 1.1)" font-size="20.8" text-anchor="end">0.00</text>
<text transform="translate(102.5 1395.92) scale(1 1.1)" font-size="20.8" text-anchor="end">10.00</text>
<text transform="translate(102.5 1325.14) scale(1 1.1)" font-size="20.8" text-anchor="end">20.00</text>
<text transform="translate(102.5 1254.36) scale(1 1.1)" font-size="20.8" text-anchor="end">30.00</text>
<text transform="translate(102.5 1183.58) scale(1 1.1)" font-size="20.8" text-anchor="end">40.00</text>
<text transform="translate(102.5 1112.8) scale(1 1.1)" font-size="20.8" text-anchor="end">50.00</text>
<text transform="translate(290.28 1044.9) scale(1 1.1)" font-size="20.8" text-anchor="end">20.0</text>
<text transform="translate(458.96 1044.9) scale(1 1.1)" font-size="20.8" text-anchor="end">40.0</text>
<text transform="translate(627.64 1044.9) scale(1 1.1)" font-size="20.8" text-anchor="end">60.0</text>
<text transform="translate(796.32 1044.9) scale(1 1.1)" font-size="20.8" text-anchor="end">80.0</text>
<text transform="translate(965 1044.9) scale(1 1.1)" font-size="20.8" text-anchor="end">100.0</text>
<text transform="translate(1133.68 1044.9) scale(1 1.1)" font-size="20.8" text-anchor="end">120.0</text>
<text transform="translate(1302.36 1044.9) scale(1 1.1)" font-size="20.8" text-anchor="end">140.0</text>
<text transform="translate(1471.04 1044.9) scale(1 1.1)" font-size="20.8" text-anchor="end">160.0</text>
<text transform="translate(118.7 1044.9) scale(1 1.1)" font-size="20.8" text-anchor="end">0.0</text>
<text transform="translate(28.5 1044.4) scale(1 1.06)" font-size="20.8">[m&#179;/h]</text>
<text transform="translate(4.3 999) scale(1 1.06)" font-size="20.8">[m]</text>
<text transform="translate(4.3 1466.5) scale(1 1.06)" font-size="20.8">[kW]</text>
<text x="119.4" y="553" font-size="21.4">Head</text>
<text x="119.8" y="1102.6" font-size="21.3">Power</text>
<path d="M250.97 903.69 L255.83 896.39 L260.7 888.83 L265.57 881 L270.43 872.9 L275.3 864.54 L280.16 855.91 L285.03 847 L289.89 837.83 L294.76 828.4 L299.63 818.69 L304.49 808.72 L309.36 798.48 L314.22 787.97 L319.09 777.19 L323.95 766.14 L328.82 754.83 L333.69 743.25 L338.55 731.4 L343.42 719.28 L348.28 706.89 L353.15 694.24 L358.02 681.32 L362.88 668.13 L367.75 654.67 L372.61 640.94 L377.48 626.95 L382.34 612.69 L387.21 598.16 L392.08 583.36" fill="none" stroke="#000" stroke-width="1.5" stroke-linejoin="round"/>
<path d="M280.23 904.49 L286.2 897.26 L292.16 889.76 L298.12 882 L304.08 873.97 L310.04 865.67 L316 857.11 L321.96 848.28 L327.93 839.19 L333.89 829.83 L339.85 820.21 L345.81 810.32 L351.77 800.16 L357.73 789.74 L363.69 779.06 L369.66 768.1 L375.62 756.88 L381.58 745.4 L387.54 733.65 L393.5 721.63 L399.46 709.35 L405.42 696.8 L411.39 683.99 L417.35 670.91 L423.31 657.57 L429.27 643.96 L435.23 630.08 L441.19 615.94 L447.15 601.53 L453.12 586.86" fill="none" stroke="#000" stroke-width="1.5" stroke-linejoin="round"/>
<path d="M317.43 905.78 L324.78 898.65 L332.14 891.25 L339.49 883.59 L346.84 875.67 L354.2 867.49 L361.55 859.05 L368.91 850.34 L376.26 841.37 L383.61 832.14 L390.97 822.65 L398.32 812.89 L405.68 802.88 L413.03 792.6 L420.38 782.06 L427.74 771.25 L435.09 760.19 L442.45 748.86 L449.8 737.27 L457.15 725.42 L464.51 713.3 L471.86 700.92 L479.21 688.29 L486.57 675.38 L493.92 662.22 L501.28 648.8 L508.63 635.11 L515.98 621.16 L523.34 606.95 L530.69 592.47" fill="none" stroke="#000" stroke-width="1.5" stroke-linejoin="round"/>
<path d="M371.91 908.19 L381.31 901.24 L390.7 894.04 L400.09 886.58 L409.49 878.86 L418.88 870.89 L428.27 862.66 L437.67 854.18 L447.06 845.44 L456.46 836.45 L465.85 827.2 L475.24 817.7 L484.64 807.94 L494.03 797.93 L503.42 787.66 L512.82 777.13 L522.21 766.35 L531.6 755.32 L541 744.02 L550.39 732.48 L559.79 720.68 L569.18 708.62 L578.57 696.31 L587.97 683.74 L597.36 670.91 L606.75 657.83 L616.15 644.5 L625.54 630.91 L634.94 617.06 L644.33 602.96" fill="none" stroke="#000" stroke-width="1.5" stroke-linejoin="round"/>
<path d="M458.44 913.2 L471.08 906.64 L483.71 899.83 L496.34 892.78 L508.98 885.49 L521.61 877.95 L534.24 870.18 L546.88 862.16 L559.51 853.91 L572.14 845.41 L584.78 836.67 L597.41 827.69 L610.04 818.47 L622.68 809 L635.31 799.3 L647.95 789.35 L660.58 779.16 L673.21 768.74 L685.85 758.07 L698.48 747.15 L711.11 736 L723.75 724.61 L736.38 712.97 L749.01 701.09 L761.65 688.98 L774.28 676.62 L786.91 664.01 L799.55 651.17 L812.18 638.09 L824.81 624.76" fill="none" stroke="#000" stroke-width="1.5" stroke-linejoin="round"/>
<path d="M521.87 917.72 L536.88 911.5 L551.88 905.04 L566.89 898.36 L581.9 891.45 L596.91 884.32 L611.92 876.95 L626.92 869.36 L641.93 861.53 L656.94 853.48 L671.95 845.2 L686.95 836.69 L701.96 827.95 L716.97 818.98 L731.98 809.79 L746.99 800.36 L761.99 790.71 L777 780.83 L792.01 770.72 L807.02 760.38 L822.03 749.81 L837.03 739.01 L852.04 727.99 L867.05 716.73 L882.06 705.25 L897.06 693.54 L912.07 681.6 L927.08 669.43 L942.09 657.03 L957.1 644.4" fill="none" stroke="#000" stroke-width="1.5" stroke-linejoin="round"/>
<path d="M634.97 927.32 L654.21 921.83 L673.45 916.14 L692.69 910.25 L711.94 904.15 L731.18 897.85 L750.42 891.36 L769.66 884.65 L788.91 877.75 L808.15 870.65 L827.39 863.34 L846.63 855.83 L865.87 848.12 L885.12 840.21 L904.36 832.1 L923.6 823.78 L942.84 815.27 L962.08 806.55 L981.33 797.63 L1000.57 788.51 L1019.81 779.18 L1039.05 769.66 L1058.3 759.93 L1077.54 750 L1096.78 739.87 L1116.02 729.54 L1135.26 719 L1154.51 708.27 L1173.75 697.33 L1192.99 686.19" fill="none" stroke="#000" stroke-width="1.5" stroke-linejoin="round"/>
<path d="M693.75 933.01 L715.2 927.95 L736.64 922.71 L758.08 917.28 L779.52 911.66 L800.97 905.86 L822.41 899.88 L843.85 893.71 L865.3 887.35 L886.74 880.81 L908.18 874.08 L929.63 867.16 L951.07 860.06 L972.51 852.77 L993.95 845.3 L1015.4 837.64 L1036.84 829.8 L1058.28 821.77 L1079.73 813.55 L1101.17 805.15 L1122.61 796.56 L1144.06 787.79 L1165.5 778.83 L1186.94 769.68 L1208.38 760.35 L1229.83 750.83 L1251.27 741.13 L1272.71 731.24 L1294.16 721.17 L1315.6 710.91" fill="none" stroke="#000" stroke-width="1.5" stroke-linejoin="round"/>
<path d="M311.4 581 L211.9 902.9" fill="none" stroke="#0a64b4" stroke-width="2.1" stroke-linejoin="round" stroke-dasharray="10.5 15.5"/>
<path d="M788 620.9 L442 911.6" fill="none" stroke="#1414c8" stroke-width="2.3" stroke-linejoin="round" stroke-dasharray="5.5 9.5" stroke-dashoffset="8"/>
<path d="M1170.8 680.6 L625 925.7" fill="none" stroke="#1414c8" stroke-width="2.3" stroke-linejoin="round" stroke-dasharray="5.5 9.5"/>
<path d="M1350.6 723.6 L715 934.6" fill="none" stroke="#0a64b4" stroke-width="2.1" stroke-linejoin="round" stroke-dasharray="12 17"/>
<path d="M121 999.3 L134.39 999.23 L147.78 999.03 L161.16 998.69 L174.55 998.22 L187.94 997.61 L201.33 996.87 L214.71 995.99 L228.1 994.98 L241.49 993.83 L254.88 992.55 L268.26 991.14 L281.65 989.58 L295.04 987.9 L308.43 986.07 L321.81 984.12 L335.2 982.03 L348.59 979.8 L361.98 977.44 L375.37 974.94 L388.75 972.31 L402.14 969.54 L415.53 966.64 L428.92 963.61 L442.3 960.43 L455.69 957.13 L469.08 953.69 L482.47 950.11 L495.85 946.4 L509.24 942.55 L522.63 938.57 L536.02 934.46 L549.4 930.21 L562.79 925.82 L576.18 921.3 L589.57 916.64 L602.96 911.85 L616.34 906.93 L629.73 901.87 L643.12 896.67 L656.51 891.34 L669.89 885.87 L683.28 880.27 L696.67 874.54 L710.06 868.67 L723.44 862.66 L736.83 856.52 L750.22 850.25 L763.61 843.84 L776.99 837.29 L790.38 830.61 L803.77 823.8 L817.16 816.85 L830.54 809.76 L843.93 802.54 L857.32 795.19 L870.71 787.7 L884.1 780.07 L897.48 772.31 L910.87 764.42 L924.26 756.39 L937.65 748.22 L951.03 739.92 L964.42 731.49 L977.81 722.92 L991.2 714.22 L1004.58 705.38 L1017.97 696.4 L1031.36 687.29 L1044.75 678.05 L1058.13 668.67 L1071.52 659.16 L1084.91 649.51 L1098.3 639.72 L1111.69 629.81 L1125.07 619.75 L1138.46 609.56 L1151.85 599.24 L1165.24 588.78 L1178.62 578.19" fill="none" stroke="#000" stroke-width="2.2" stroke-linejoin="round" stroke-dasharray="24 6"/>
<path d="M121 578.35 L142.94 578.08 L164.87 577.94 L186.81 577.92 L208.74 578.01 L230.68 578.23 L252.61 578.56 L274.55 579.01 L296.48 579.58 L318.42 580.26 L340.36 581.05 L362.29 581.95 L384.23 582.97 L406.16 584.09 L428.1 585.32 L450.03 586.66 L471.97 588.1 L493.9 589.65 L515.84 591.3 L537.78 593.05 L559.71 594.9 L581.65 596.85 L603.58 598.9 L625.52 601.05 L647.45 603.29 L669.39 605.62 L691.32 608.05 L713.26 610.57 L735.2 613.18 L757.13 615.88 L779.07 618.67 L801 621.55 L822.94 624.51 L844.87 627.55 L866.81 630.68 L888.74 633.89 L910.68 637.18 L932.62 640.55 L954.55 644 L976.49 647.52 L998.42 651.12 L1020.36 654.8 L1042.29 658.55 L1064.23 662.37 L1086.16 666.26 L1108.1 670.22 L1130.04 674.25 L1151.97 678.35 L1173.91 682.51 L1195.84 686.74 L1217.78 691.03 L1239.71 695.39 L1261.65 699.8 L1283.58 704.27 L1305.52 708.81 L1327.46 713.4 L1349.39 718.04 L1371.33 722.74 L1393.26 727.5 L1415.2 732.3" fill="none" stroke="#000" stroke-width="2.2" stroke-linejoin="round"/>
<path d="M121 680.78 L140.08 680.58 L159.16 680.47 L178.24 680.45 L197.32 680.53 L216.4 680.69 L235.49 680.94 L254.57 681.29 L273.65 681.71 L292.73 682.23 L311.81 682.83 L330.89 683.51 L349.97 684.28 L369.05 685.13 L388.13 686.06 L407.21 687.07 L426.29 688.16 L445.38 689.33 L464.46 690.58 L483.54 691.91 L502.62 693.31 L521.7 694.78 L540.78 696.33 L559.86 697.96 L578.94 699.65 L598.02 701.42 L617.1 703.26 L636.18 705.16 L655.27 707.14 L674.35 709.18 L693.43 711.29 L712.51 713.47 L731.59 715.71 L750.67 718.01 L769.75 720.38 L788.83 722.81 L807.91 725.3 L826.99 727.85 L846.08 730.46 L865.16 733.12 L884.24 735.85 L903.32 738.63 L922.4 741.47 L941.48 744.36 L960.56 747.3 L979.64 750.3 L998.72 753.35 L1017.8 756.45 L1036.88 759.6 L1055.97 762.8 L1075.05 766.05 L1094.13 769.34 L1113.21 772.68 L1132.29 776.07 L1151.37 779.49 L1170.45 782.97 L1189.53 786.48 L1208.61 790.04 L1227.69 793.64 L1246.77 797.27" fill="none" stroke="#000" stroke-width="2.2" stroke-linejoin="round"/>
<path d="M121 768.96 L137.23 768.81 L153.45 768.73 L169.68 768.72 L185.91 768.77 L202.13 768.89 L218.36 769.08 L234.58 769.32 L250.81 769.63 L267.04 770 L283.26 770.44 L299.49 770.93 L315.72 771.49 L331.94 772.1 L348.17 772.77 L364.39 773.51 L380.62 774.29 L396.85 775.14 L413.07 776.04 L429.3 777 L445.53 778.02 L461.75 779.08 L477.98 780.2 L494.2 781.38 L510.43 782.6 L526.66 783.88 L542.88 785.21 L559.11 786.59 L575.34 788.02 L591.56 789.5 L607.79 791.02 L624.02 792.59 L640.24 794.21 L656.47 795.88 L672.69 797.59 L688.92 799.35 L705.15 801.15 L721.37 802.99 L737.6 804.88 L753.83 806.81 L770.05 808.78 L786.28 810.79 L802.5 812.84 L818.73 814.93 L834.96 817.06 L851.18 819.23 L867.41 821.44 L883.64 823.68 L899.86 825.96 L916.09 828.27 L932.31 830.62 L948.54 833 L964.77 835.42 L980.99 837.86 L997.22 840.34 L1013.45 842.86 L1029.67 845.4 L1045.9 847.97 L1062.13 850.57 L1078.35 853.2" fill="none" stroke="#000" stroke-width="2.2" stroke-linejoin="round"/>
<path d="M121 842.88 L134.37 842.78 L147.74 842.72 L161.12 842.71 L174.49 842.75 L187.86 842.83 L201.23 842.95 L214.6 843.12 L227.97 843.33 L241.35 843.58 L254.72 843.88 L268.09 844.21 L281.46 844.59 L294.83 845.01 L308.2 845.47 L321.58 845.96 L334.95 846.5 L348.32 847.07 L361.69 847.69 L375.06 848.34 L388.43 849.03 L401.81 849.75 L415.18 850.51 L428.55 851.31 L441.92 852.14 L455.29 853.01 L468.66 853.91 L482.04 854.85 L495.41 855.82 L508.78 856.82 L522.15 857.86 L535.52 858.93 L548.89 860.03 L562.27 861.16 L575.64 862.32 L589.01 863.51 L602.38 864.74 L615.75 865.99 L629.12 867.27 L642.5 868.58 L655.87 869.92 L669.24 871.28 L682.61 872.68 L695.98 874.1 L709.35 875.54 L722.73 877.02 L736.1 878.51 L749.47 880.04 L762.84 881.58 L776.21 883.15 L789.58 884.75 L802.96 886.37 L816.33 888.01 L829.7 889.67 L843.07 891.35 L856.44 893.06 L869.81 894.79 L883.19 896.53 L896.56 898.3 L909.93 900.08" fill="none" stroke="#000" stroke-width="2.2" stroke-linejoin="round"/>
<path d="M121 902.53 L131.52 902.47 L142.03 902.44 L152.55 902.43 L163.07 902.46 L173.59 902.51 L184.1 902.58 L194.62 902.69 L205.14 902.82 L215.65 902.97 L226.17 903.16 L236.69 903.36 L247.2 903.6 L257.72 903.85 L268.24 904.14 L278.76 904.44 L289.27 904.78 L299.79 905.13 L310.31 905.51 L320.82 905.91 L331.34 906.34 L341.86 906.79 L352.37 907.26 L362.89 907.75 L373.41 908.27 L383.93 908.8 L394.44 909.36 L404.96 909.94 L415.48 910.54 L425.99 911.16 L436.51 911.8 L447.03 912.46 L457.55 913.14 L468.06 913.84 L478.58 914.56 L489.1 915.3 L499.61 916.06 L510.13 916.83 L520.65 917.63 L531.16 918.44 L541.68 919.26 L552.2 920.11 L562.72 920.97 L573.23 921.85 L583.75 922.74 L594.27 923.65 L604.78 924.58 L615.3 925.52 L625.82 926.48 L636.34 927.45 L646.85 928.44 L657.37 929.44 L667.89 930.45 L678.4 931.48 L688.92 932.52 L699.44 933.58 L709.95 934.65 L720.47 935.73 L730.99 936.82 L741.51 937.92" fill="none" stroke="#000" stroke-width="2.2" stroke-linejoin="round"/>
<path d="M121 835.77 L134.67 835.66 L148.34 835.61 L162.02 835.6 L175.69 835.64 L189.36 835.72 L203.03 835.85 L216.71 836.02 L230.38 836.24 L244.05 836.51 L257.72 836.82 L271.39 837.17 L285.07 837.56 L298.74 838 L312.41 838.47 L326.08 838.99 L339.75 839.55 L353.43 840.16 L367.1 840.8 L380.77 841.48 L394.44 842.2 L408.12 842.95 L421.79 843.75 L435.46 844.58 L449.13 845.45 L462.8 846.36 L476.48 847.31 L490.15 848.28 L503.82 849.3 L517.49 850.35 L531.16 851.43 L544.84 852.55 L558.51 853.7 L572.18 854.88 L585.85 856.1 L599.53 857.34 L613.2 858.62 L626.87 859.93 L640.54 861.27 L654.21 862.64 L667.89 864.04 L681.56 865.47 L695.23 866.92 L708.9 868.41 L722.57 869.92 L736.25 871.46 L749.92 873.02 L763.59 874.62 L777.26 876.23 L790.94 877.87 L804.61 879.54 L818.28 881.23 L831.95 882.95 L845.62 884.69 L859.3 886.45 L872.97 888.23 L886.64 890.04 L900.31 891.86 L913.99 893.71 L927.66 895.58" fill="none" stroke="#f00" stroke-width="3.6" stroke-linejoin="round"/>
<text transform="translate(1414.7 733) scale(1 1.1)" font-size="21.1">3650</text>
<text transform="translate(1246.37 797.27) scale(1 1.1)" font-size="21.1">3175</text>
<text transform="translate(1077.95 853.4) scale(1 1.1)" font-size="21.1">2700</text>
<text transform="translate(909.43 900.48) scale(1 1.1)" font-size="21.1">2225</text>
<text transform="translate(741.81 938.72) scale(1 1.1)" font-size="21.1">1750</text>
<text x="0" y="0" font-size="20.8" transform="translate(391.58 577.86) rotate(-90) scale(1 1.06)">45.0</text>
<text x="0" y="0" font-size="20.8" transform="translate(451.62 579.86) rotate(-90) scale(1 1.06)">50.0</text>
<text x="0" y="0" font-size="20.8" transform="translate(529.69 585.47) rotate(-90) scale(1 1.06)">55.0</text>
<text x="0" y="0" font-size="20.8" transform="translate(642.13 596.46) rotate(-90) scale(1 1.06)">60.0</text>
<text x="0" y="0" font-size="20.8" transform="translate(823.51 618.06) rotate(-90) scale(1 1.06)">65.0</text>
<text x="0" y="0" font-size="20.8" transform="translate(955.6 636.4) rotate(-90) scale(1 1.06)">67.0</text>
<path d="M928.8 903.5 Q930 910 934 913" fill="none" stroke="#f00" stroke-width="1"/>
<circle cx="941.6" cy="924.4" r="1.3" fill="#f00"/>
<text transform="translate(944.2 926.3) scale(1 1.08)" font-size="20.8" fill="#f00">&#216;212</text>
<text transform="translate(943 950.5) scale(1 1.08)" font-size="20.8" fill="#f00">2275rpm</text>
<rect x="572.6" y="916.7" width="14.6" height="13.6" fill="#000"/>
<rect x="693.4" y="865.6" width="21" height="4.6" fill="#000"/>
<rect x="708.4" y="865.6" width="6" height="20.3" fill="#000"/>
<rect x="1310.8" y="563.5" width="158.9" height="63.6" fill="#fff" stroke="#000" stroke-width="2.4"/>
<clipPath id="lc"><rect x="1312" y="565" width="99.6" height="60"/></clipPath>
<g clip-path="url(#lc)">
<text x="1318" y="588.8" font-size="18.8">Basic water</text>
<text x="1318" y="613.6" font-size="18.8">Rated water</text>
</g>
<line x1="1413.3" y1="583.8" x2="1459.6" y2="583.8" stroke="#000" stroke-width="1.5"/>
<line x1="1412.8" y1="607.8" x2="1460.1" y2="607.8" stroke="#f00" stroke-width="3.2"/>
<path d="M121 1383.58 L142.94 1380.09 L164.87 1376.48 L186.81 1372.76 L208.74 1368.95 L230.68 1365.05 L252.61 1361.08 L274.55 1357.03 L296.48 1352.93 L318.42 1348.78 L340.36 1344.59 L362.29 1340.37 L384.23 1336.11 L406.16 1331.84 L428.1 1327.56 L450.03 1323.28 L471.97 1318.99 L493.9 1314.71 L515.84 1310.45 L537.78 1306.21 L559.71 1301.99 L581.65 1297.79 L603.58 1293.64 L625.52 1289.52 L647.45 1285.44 L669.39 1281.41 L691.32 1277.43 L713.26 1273.5 L735.2 1269.62 L757.13 1265.8 L779.07 1262.04 L801 1258.35 L822.94 1254.71 L844.87 1251.14 L866.81 1247.64 L888.74 1244.2 L910.68 1240.83 L932.62 1237.53 L954.55 1234.29 L976.49 1231.11 L998.42 1228 L1020.36 1224.96 L1042.29 1221.97 L1064.23 1219.05 L1086.16 1216.18 L1108.1 1213.37 L1130.04 1210.62 L1151.97 1207.91 L1173.91 1205.25 L1195.84 1202.63 L1217.78 1200.05 L1239.71 1197.51 L1261.65 1195 L1283.58 1192.51 L1305.52 1190.04 L1327.46 1187.59 L1349.39 1185.15 L1371.33 1182.71 L1393.26 1180.27 L1415.2 1177.82" fill="none" stroke="#000" stroke-width="2.2" stroke-linejoin="round"/>
<path d="M121 1411.89 L140.08 1409.59 L159.16 1407.21 L178.24 1404.77 L197.32 1402.26 L216.4 1399.69 L235.49 1397.08 L254.57 1394.42 L273.65 1391.72 L292.73 1388.99 L311.81 1386.23 L330.89 1383.45 L349.97 1380.65 L369.05 1377.84 L388.13 1375.02 L407.21 1372.2 L426.29 1369.38 L445.38 1366.56 L464.46 1363.76 L483.54 1360.96 L502.62 1358.18 L521.7 1355.42 L540.78 1352.69 L559.86 1349.98 L578.94 1347.29 L598.02 1344.64 L617.1 1342.02 L636.18 1339.43 L655.27 1336.88 L674.35 1334.37 L693.43 1331.89 L712.51 1329.46 L731.59 1327.07 L750.67 1324.72 L769.75 1322.41 L788.83 1320.15 L807.91 1317.93 L826.99 1315.76 L846.08 1313.62 L865.16 1311.54 L884.24 1309.49 L903.32 1307.48 L922.4 1305.52 L941.48 1303.6 L960.56 1301.71 L979.64 1299.86 L998.72 1298.05 L1017.8 1296.26 L1036.88 1294.51 L1055.97 1292.79 L1075.05 1291.09 L1094.13 1289.42 L1113.21 1287.77 L1132.29 1286.13 L1151.37 1284.5 L1170.45 1282.89 L1189.53 1281.28 L1208.61 1279.68 L1227.69 1278.07 L1246.77 1276.46" fill="none" stroke="#000" stroke-width="2.2" stroke-linejoin="round"/>
<path d="M121 1432.88 L137.23 1431.46 L153.45 1430 L169.68 1428.5 L185.91 1426.95 L202.13 1425.38 L218.36 1423.77 L234.58 1422.13 L250.81 1420.47 L267.04 1418.79 L283.26 1417.09 L299.49 1415.38 L315.72 1413.66 L331.94 1411.94 L348.17 1410.2 L364.39 1408.47 L380.62 1406.73 L396.85 1405 L413.07 1403.28 L429.3 1401.56 L445.53 1399.85 L461.75 1398.15 L477.98 1396.47 L494.2 1394.8 L510.43 1393.15 L526.66 1391.52 L542.88 1389.91 L559.11 1388.32 L575.34 1386.75 L591.56 1385.2 L607.79 1383.68 L624.02 1382.19 L640.24 1380.71 L656.47 1379.27 L672.69 1377.85 L688.92 1376.46 L705.15 1375.1 L721.37 1373.76 L737.6 1372.45 L753.83 1371.16 L770.05 1369.9 L786.28 1368.67 L802.5 1367.46 L818.73 1366.28 L834.96 1365.12 L851.18 1363.98 L867.41 1362.87 L883.64 1361.77 L899.86 1360.69 L916.09 1359.63 L932.31 1358.59 L948.54 1357.56 L964.77 1356.54 L980.99 1355.54 L997.22 1354.54 L1013.45 1353.55 L1029.67 1352.56 L1045.9 1351.57 L1062.13 1350.58 L1078.35 1349.59" fill="none" stroke="#000" stroke-width="2.2" stroke-linejoin="round"/>
<path d="M121 1447.64 L134.37 1446.85 L147.74 1446.03 L161.12 1445.19 L174.49 1444.33 L187.86 1443.44 L201.23 1442.54 L214.6 1441.63 L227.97 1440.7 L241.35 1439.76 L254.72 1438.81 L268.09 1437.85 L281.46 1436.89 L294.83 1435.92 L308.2 1434.95 L321.58 1433.98 L334.95 1433.01 L348.32 1432.04 L361.69 1431.07 L375.06 1430.11 L388.43 1429.16 L401.81 1428.21 L415.18 1427.27 L428.55 1426.33 L441.92 1425.41 L455.29 1424.5 L468.66 1423.59 L482.04 1422.7 L495.41 1421.82 L508.78 1420.96 L522.15 1420.11 L535.52 1419.27 L548.89 1418.45 L562.27 1417.64 L575.64 1416.85 L589.01 1416.07 L602.38 1415.3 L615.75 1414.55 L629.12 1413.82 L642.5 1413.1 L655.87 1412.4 L669.24 1411.71 L682.61 1411.03 L695.98 1410.37 L709.35 1409.72 L722.73 1409.08 L736.1 1408.46 L749.47 1407.85 L762.84 1407.24 L776.21 1406.65 L789.58 1406.07 L802.96 1405.49 L816.33 1404.92 L829.7 1404.36 L843.07 1403.8 L856.44 1403.24 L869.81 1402.69 L883.19 1402.14 L896.56 1401.58 L909.93 1401.03" fill="none" stroke="#000" stroke-width="2.2" stroke-linejoin="round"/>
<path d="M121 1457.27 L131.52 1456.89 L142.03 1456.49 L152.55 1456.08 L163.07 1455.66 L173.59 1455.23 L184.1 1454.79 L194.62 1454.35 L205.14 1453.89 L215.65 1453.44 L226.17 1452.97 L236.69 1452.51 L247.2 1452.04 L257.72 1451.57 L268.24 1451.1 L278.76 1450.63 L289.27 1450.15 L299.79 1449.68 L310.31 1449.21 L320.82 1448.74 L331.34 1448.28 L341.86 1447.82 L352.37 1447.36 L362.89 1446.91 L373.41 1446.46 L383.93 1446.01 L394.44 1445.57 L404.96 1445.14 L415.48 1444.71 L425.99 1444.29 L436.51 1443.88 L447.03 1443.47 L457.55 1443.07 L468.06 1442.68 L478.58 1442.29 L489.1 1441.91 L499.61 1441.54 L510.13 1441.17 L520.65 1440.82 L531.16 1440.47 L541.68 1440.13 L552.2 1439.79 L562.72 1439.46 L573.23 1439.14 L583.75 1438.82 L594.27 1438.51 L604.78 1438.21 L615.3 1437.91 L625.82 1437.62 L636.34 1437.33 L646.85 1437.04 L657.37 1436.76 L667.89 1436.49 L678.4 1436.21 L688.92 1435.94 L699.44 1435.67 L709.95 1435.4 L720.47 1435.13 L730.99 1434.86 L741.51 1434.59" fill="none" stroke="#000" stroke-width="2.2" stroke-linejoin="round"/>
<path d="M121 1446.35 L134.67 1445.5 L148.34 1444.63 L162.02 1443.73 L175.69 1442.8 L189.36 1441.86 L203.03 1440.9 L216.71 1439.92 L230.38 1438.93 L244.05 1437.92 L257.72 1436.91 L271.39 1435.88 L285.07 1434.85 L298.74 1433.82 L312.41 1432.78 L326.08 1431.74 L339.75 1430.71 L353.43 1429.67 L367.1 1428.64 L380.77 1427.61 L394.44 1426.59 L408.12 1425.57 L421.79 1424.57 L435.46 1423.57 L449.13 1422.58 L462.8 1421.61 L476.48 1420.64 L490.15 1419.69 L503.82 1418.75 L517.49 1417.83 L531.16 1416.92 L544.84 1416.02 L558.51 1415.14 L572.18 1414.28 L585.85 1413.43 L599.53 1412.6 L613.2 1411.78 L626.87 1410.98 L640.54 1410.2 L654.21 1409.43 L667.89 1408.67 L681.56 1407.94 L695.23 1407.21 L708.9 1406.51 L722.57 1405.81 L736.25 1405.13 L749.92 1404.46 L763.59 1403.81 L777.26 1403.16 L790.94 1402.53 L804.61 1401.91 L818.28 1401.29 L831.95 1400.68 L845.62 1400.08 L859.3 1399.48 L872.97 1398.89 L886.64 1398.3 L900.31 1397.71 L913.99 1397.12 L927.66 1396.52" fill="none" stroke="#f00" stroke-width="3.6" stroke-linejoin="round"/>
<text transform="translate(1415 1178.22) scale(1 1.1)" font-size="21.1">3650</text>
<text transform="translate(1246.47 1276.96) scale(1 1.1)" font-size="21.1">3175</text>
<text transform="translate(1078.75 1349.09) scale(1 1.1)" font-size="21.1">2700</text>
<text transform="translate(909.63 1400.83) scale(1 1.1)" font-size="21.1">2225</text>
<text transform="translate(741.31 1435.39) scale(1 1.1)" font-size="21.1">1750</text>
<path d="M711.38 1398.22 L719.38 1406.52 L711.38 1414.82 L703.38 1406.52 Z" fill="#000"/>
</svg>
</body></html>
